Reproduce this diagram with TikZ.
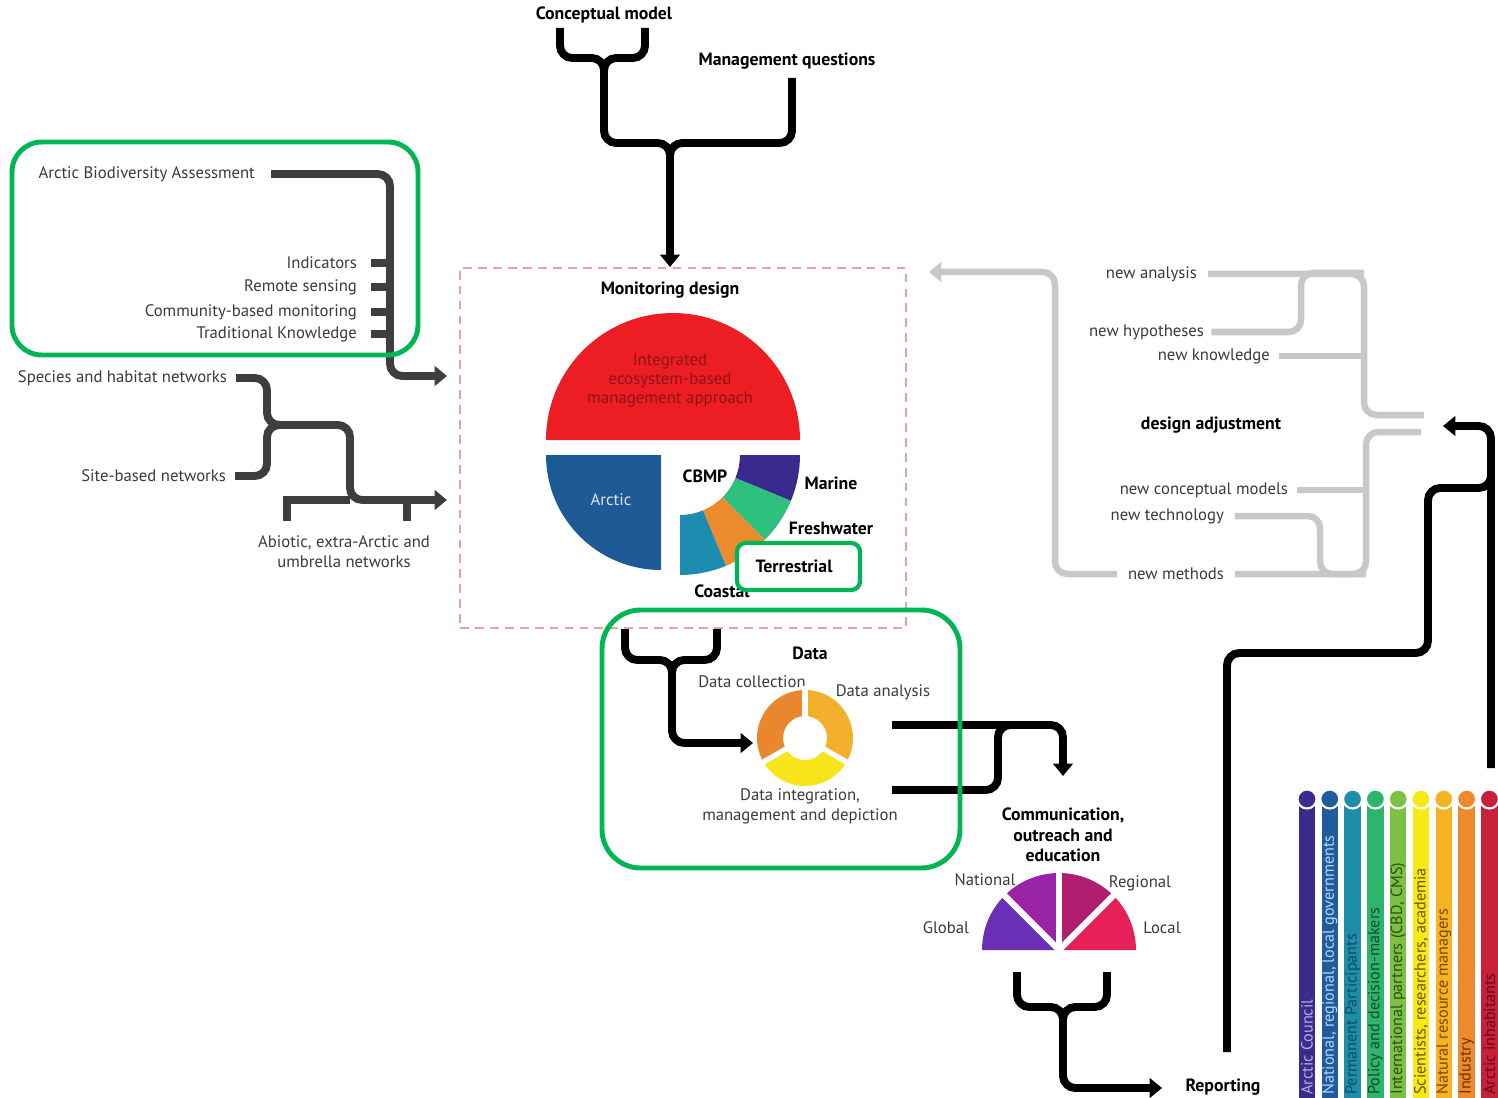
\documentclass[tikz,border=0pt]{standalone}
\usepackage{fontspec}
\setmainfont{PT Sans}
\usetikzlibrary{arrows.meta}
\usetikzlibrary{positioning}
\usetikzlibrary{calc}

\definecolor{cbgreen}{HTML}{00B553}
\definecolor{netgrey}{HTML}{3E3E3E}
\definecolor{palegrey}{HTML}{C8C8C8}
\definecolor{labelgrey}{HTML}{3A3A3A}
\definecolor{dashpink}{HTML}{E3A2AE}
\definecolor{mdred}{HTML}{EC1E24}
\definecolor{mdtext}{HTML}{8E1414}
\definecolor{arcticblue}{HTML}{1D5A96}
\definecolor{marine}{HTML}{3A2A8E}
\definecolor{fresh}{HTML}{2EC07E}
\definecolor{terr}{HTML}{EC8A2E}
\definecolor{coast}{HTML}{1C8CB0}
\definecolor{dcoll}{HTML}{E8872E}
\definecolor{danal}{HTML}{F3B02C}
\definecolor{dinteg}{HTML}{F7E41A}
\definecolor{cglobal}{HTML}{6B2FB5}
\definecolor{cnational}{HTML}{9A22A6}
\definecolor{cregional}{HTML}{B01E72}
\definecolor{clocal}{HTML}{E6215A}
\definecolor{stA}{HTML}{3B2B8C}\definecolor{stAt}{HTML}{B6AEE6}
\definecolor{stB}{HTML}{1F5C9E}\definecolor{stBt}{HTML}{BCD4F2}
\definecolor{stC}{HTML}{1E8EA8}\definecolor{stCt}{HTML}{0E4A66}
\definecolor{stD}{HTML}{2DB56E}\definecolor{stDt}{HTML}{13482A}
\definecolor{stE}{HTML}{7CC242}\definecolor{stEt}{HTML}{2C4E10}
\definecolor{stF}{HTML}{F5EA14}\definecolor{stFt}{HTML}{6A5200}
\definecolor{stG}{HTML}{F5B323}\definecolor{stGt}{HTML}{784600}
\definecolor{stH}{HTML}{EE8A2B}\definecolor{stHt}{HTML}{6A2E00}
\definecolor{stI}{HTML}{C8203A}\definecolor{stIt}{HTML}{5E0A18}

% annulus piece: centre, inner r, outer r, from, to, colour
\newcommand{\ringpart}[6]{\fill[#6] ($(#1)+(#4:#3)$) arc (#4:#5:#3) -- ($(#1)+(#5:#2)$) arc (#5:#4:#2) -- cycle;}
% pie piece: centre, r, from, to, colour
\newcommand{\piepart}[5]{\fill[#5] (#1) -- ($(#1)+(#3:#2)$) arc (#3:#4:#2) -- cycle;}
\newcommand{\bartext}{\fontsize{9.2}{10}\selectfont}

\begin{document}
\begin{tikzpicture}[x=0.02cm,y=-0.02cm,
flow/.style={line width=4.5pt,rounded corners=7pt},
blackflow/.style={flow,black},
netflow/.style={flow,netgrey},
paleflow/.style={line width=3.7pt,rounded corners=7pt,palegrey},
tip/.style={-{Triangle[width=11pt,length=7pt]}},
lbl/.style={font=\fontsize{9.5}{11.4}\selectfont,text=labelgrey,inner sep=1pt},
hd/.style={font=\fontsize{10.1}{11.6}\selectfont\bfseries,inner sep=1pt,align=center},
frame/.style={draw=cbgreen,line width=2.8pt},
dashbox/.style={draw=dashpink,line width=1.2pt,dash pattern=on 5pt off 3.5pt,inner sep=0pt}
]
\useasboundingbox (0,0) rectangle (1498,1098);

% conceptual model / management questions
\node[hd] (concept) at (604,15) {Conceptual model};
\node[hd] (mgmt) at (787,61) {Management questions};
\node[dashbox,minimum width=8.92cm,minimum height=7.2cm] (design) at (683,448) {};
\coordinate (cmL) at (560,28);
\coordinate (cmR) at (645,28);
\coordinate (mqB) at (792,78);
\coordinate (j1) at (604,58);
\coordinate (j2) at (670,143);
\draw[blackflow,tip] (cmL) |- (j1) |- (j2) -- (j2 |- design.north);
\draw[blackflow] (cmR) |- (j1) -- (604,100);
\draw[blackflow] (mqB) |- (j2) -- (670,190);

% monitoring design
\node[hd] (mdtitle) at (670,290) {Monitoring design};
\coordinate (mdc) at (673,440);
\fill[mdred] (mdc) ++(0:2.54cm) arc (0:180:2.54cm) -- cycle;
\node[lbl,align=center,font=\fontsize{9.6}{10.8}\selectfont,text=mdtext] (iebm) at (670,380)
  {Integrated\\ecosystem-based\\management approach};
\coordinate (arc) at (661,455);
\piepart{arc}{2.3cm}{180}{270}{arcticblue}
\node[lbl,text=white!85!arcticblue] (arctic) at (611,500) {Arctic};
\coordinate (cbc) at (680,455);
\ringpart{cbc}{1.2cm}{2.4cm}{0}{-22.5}{marine}
\ringpart{cbc}{1.2cm}{2.4cm}{-22.5}{-45}{fresh}
\ringpart{cbc}{1.2cm}{2.4cm}{-45}{-67.5}{terr}
\ringpart{cbc}{1.2cm}{2.4cm}{-67.5}{-90}{coast}
\node[hd] (cbmp) at (705,476) {CBMP};
\node[hd] (marine) at (831,483) {Marine};
\node[hd] (fresh) at (831,528) {Freshwater};
\node[hd] (coastal) at (722,591) {Coastal};
\draw[frame,line width=2.4pt,rounded corners=5pt,fill=white] (737,543) rectangle (860,590);
\node[hd] (terr) at (794,566) {Terrestrial};

% left side networks
\node[lbl,anchor=east] (aba) at (257,174) {Arctic Biodiversity Assessment};
\node[lbl,anchor=east] (ind) at (359,263) {Indicators};
\node[lbl,anchor=east] (rs) at (359,287) {Remote sensing};
\node[lbl,anchor=east] (cbm) at (359,312) {Community-based monitoring};
\node[lbl,anchor=east] (tk) at (359,334) {Traditional Knowledge};
\node[lbl,anchor=east] (spec) at (229,378) {Species and habitat networks};
\node[lbl,anchor=east] (site) at (228,476) {Site-based networks};
\node[lbl,align=center] (abio) at (344,552) {Abiotic, extra-Arctic and\\umbrella networks};
\coordinate (spine) at (390,300);
\coordinate (arrA) at (447,376);
\draw[netflow,tip] ([xshift=8pt]aba.east) -| (spine) |- (arrA);
\foreach \n in {ind,rs,cbm,tk}
  \draw[netgrey,line width=4.5pt] ([xshift=7pt]\n.east) -- (\n.east -| spine);
\coordinate (netj) at (267,425);
\coordinate (netk) at (350,500);
\coordinate (arrB) at (447,500);
\coordinate (abL) at (287,521);
\coordinate (abR) at (407,521);
\draw[netflow,tip] ([xshift=4pt]spec.east) -| (netj) -| (netk) -- (arrB);
\draw[netflow] ([xshift=4pt]site.east) -| (netj) -- (300,425);
\draw[netflow,sharp corners] (abL) |- (netk);
\draw[netgrey,line width=4.5pt] (abR) -- (abR |- netk);

% design adjustment loop
\node[lbl,anchor=east] (nana) at (1199,274) {new analysis};
\node[lbl,anchor=east] (nhyp) at (1206,332) {new hypotheses};
\node[lbl,anchor=east] (nkno) at (1272,356) {new knowledge};
\node[hd] (adjust) at (1211,425) {design adjustment};
\node[lbl,anchor=east] (ncm) at (1290,490) {new conceptual models};
\node[lbl,anchor=east] (ntech) at (1226,516) {new technology};
\node[lbl] (nmeth) at (1176,574) {new methods};
\coordinate (upr) at (1364,350);
\coordinate (adjU) at (1424,415);
\coordinate (hypc) at (1301,273);
\coordinate (adjL) at (1421,432);
\coordinate (lwr) at (1366,500);
\coordinate (techc) at (1320,540);
\coordinate (loopc) at (1055,400);
\coordinate (arrC) at (929,272);
\draw[paleflow] ([xshift=5pt]nana.east) -| (upr) |- (adjU);
\draw[paleflow] ([xshift=3pt]nhyp.east) -| (hypc) -- (hypc -| upr);
\draw[paleflow] ([xshift=4pt]nkno.east) -- (nkno.east -| upr);
\draw[paleflow] (adjL) -| (lwr) |- ([xshift=5pt]nmeth.east);
\draw[paleflow] ([xshift=4pt]ncm.east) -- (ncm.east -| lwr);
\draw[paleflow] ([xshift=5pt]ntech.east) -| (techc) |- (nmeth.east -| lwr);
\draw[paleflow,tip] ([xshift=-5pt]nmeth.west) -| (loopc) |- (arrC);

% data
\coordinate (dj) at (672,660);
\coordinate (arrD) at (753,743);
\draw[blackflow,tip] (design.south -| 625,0) |- (dj) |- (arrD);
\draw[blackflow] (design.south -| 717,0) |- (dj) -- (672,700);
\node[hd] (data) at (810,653) {Data};
\node[lbl] (dcol) at (752,682) {Data collection};
\node[lbl] (dana) at (883,692) {Data analysis};
\node[lbl,align=center] (dint) at (800,806) {Data integration,\\management and depiction};
\coordinate (dring) at (805,738);
\ringpart{dring}{0.44cm}{0.96cm}{90}{210}{dcoll}
\ringpart{dring}{0.44cm}{0.96cm}{-30}{90}{danal}
\ringpart{dring}{0.44cm}{0.96cm}{210}{330}{dinteg}
\foreach \a in {90,210,330}
  \draw[white,line width=3pt] (dring) -- ++(\a:1.05cm);
\coordinate (o1) at (892,725);
\coordinate (o2) at (892,790);
\coordinate (cj) at (998,725);
\coordinate (arrE) at (1063,776);
\draw[blackflow,tip] (o1) -| (arrE);
\draw[blackflow] (o2) -| (cj) -- (1030,725);

% communication
\node[hd] (comm) at (1063,835) {Communication,\\outreach and\\education};
\coordinate (cc) at (1059,950);
\piepart{cc}{1.54cm}{135}{180}{cglobal}
\piepart{cc}{1.54cm}{90}{135}{cnational}
\piepart{cc}{1.54cm}{45}{90}{cregional}
\piepart{cc}{1.54cm}{0}{45}{clocal}
\foreach \a in {45,90,135}
  \draw[white,line width=3.6pt] (cc) -- ++(\a:1.7cm);
\node[lbl] (natl) at (985,880) {National};
\node[lbl] (regl) at (1140,883) {Regional};
\node[lbl] (glob) at (946,928) {Global};
\node[lbl] (locl) at (1162,928) {Local};
\coordinate (ccL) at (1017,972);
\coordinate (ccR) at (1107,972);
\coordinate (rj) at (1063,1007);
\coordinate (arrF) at (1162,1088);
\draw[blackflow,tip] (ccL) |- (rj) |- (arrF);
\draw[blackflow] (ccR) |- (rj) -- (1063,1040);
\node[hd] (report) at (1223,1087) {Reporting};

% feedback to design adjustment
\coordinate (fbR) at (1491,768);
\coordinate (arrG) at (1443,426);
\coordinate (fbB) at (1227,1052);
\coordinate (fb1) at (1428,653);
\coordinate (fb2) at (1491,488);
\draw[blackflow,tip] (fbR) |- (arrG);
\draw[blackflow] (fbB) |- (fb1) |- (fb2) -- (1491,460);

% stakeholders
\foreach \col/\tcol/\txt [count=\i from 0] in {
  stA/stAt/{Arctic Council},
  stB/stBt/{National, regional, local governments},
  stC/stCt/{Permanent Participants},
  stD/stDt/{Policy and decision-makers},
  stE/stEt/{International partners (CBD, CMS)},
  stF/stFt/{Scientists, researchers, academia},
  stG/stGt/{Natural resource managers},
  stH/stHt/{Industry},
  stI/stIt/{Arctic inhabitants}}
{
  \pgfmathsetmacro\bx{1307+22.8*\i}
  \draw[white,line width=1pt,fill=\col] (\bx-9,1110) -- (\bx-9,800) -- (\bx+9,800) -- (\bx+9,1110);
  \draw[white,line width=1.2pt,fill=\col] (\bx,799) circle (0.19cm);
  \node[rotate=90,anchor=west,text=\tcol,font=\bartext,inner sep=0pt] (sh\i) at (\bx,1095) {\txt};
}

% highlight frames
\draw[frame,rounded corners=17pt] (12,142) rectangle (418,355);
\draw[frame,rounded corners=22pt] (602,610) rectangle (960,868);
\end{tikzpicture}
\end{document}
